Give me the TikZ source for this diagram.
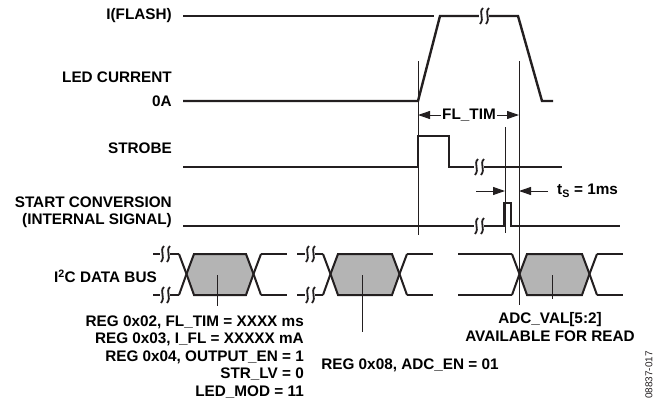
\documentclass[tikz,border=0pt]{standalone}
\usepackage{fontspec}
\setmainfont{Liberation Sans}
\usetikzlibrary{arrows.meta}

% break mark on a line: #1 = x, #2 = y
\newcommand{\zigbreak}[2]{%
  \fill[white] (#1-5,#2-6) rectangle (#1+5,#2+6);
  \draw[brk] (#1-1,#2-8) .. controls (#1-6,#2-3) and (#1+1,#2+2) .. (#1-4,#2+8);
  \draw[brk] (#1+5,#2-8) .. controls (#1,#2-3) and (#1+7,#2+2) .. (#1+2,#2+8);
}
% data eye: #1 = left end of the crossing, #2 = right end of the top
\newcommand{\dataeye}[2]{%
  \draw[eye,fill=eyegray] (#1+7.5,274) -- (#1+15,254) -- (#2,254) -- (#2+7.5,274)
        -- (#2,295) -- (#1+15,295) -- cycle;
  \draw[eye] (#1,254) -- (#1+7.5,274) -- (#1,295);
  \draw[eye] (#2+15,254) -- (#2+7.5,274) -- (#2+15,295);
}

\definecolor{eyegray}{RGB}{180,180,180}
\definecolor{inkgray}{RGB}{35,31,32}

\begin{document}
\begin{tikzpicture}[x=1pt,y=-1pt,
    font=\bfseries\fontsize{15.3}{17.5}\selectfont,
    sig/.style={line width=2.4pt,line join=miter,inkgray},
    thinl/.style={line width=1pt,inkgray},
    brk/.style={line width=1.8pt,inkgray},
    eye/.style={line width=2pt,inkgray,line join=miter},
    lbl/.style={anchor=east,inner sep=0pt},
    tip/.style={-{Triangle[length=12pt,width=8pt]}}]
  \useasboundingbox (0,0) rectangle (657,402);

  % row labels
  \node[lbl] (iflash) at (172,16) {I(FLASH)};
  \node[lbl] (ledcur) at (172,77) {LED CURRENT};
  \node[lbl] (zeroa) at (172,101) {0A};
  \node[lbl] (strobe) at (172,148) {STROBE};
  \node[lbl,align=right] (startconv) at (172,212) {START CONVERSION\\(INTERNAL SIGNAL)};
  \node[lbl] (i2cbus) at (157,276) {I\textsuperscript{2}C DATA BUS};

  % marker lines
  \draw[thinl] (418,61) -- (418,235);
  \draw[thinl] (519,61) -- (519,305);
  \draw[thinl] (505,127) -- (505,233);

  % LED current
  \draw[line width=1.2pt,inkgray] (183,16) -- (434,16);
  \draw[sig] (183,101) -- (418,101) -- (440,16) -- (518,16) -- (542,101) -- (553,101);
  \zigbreak{484}{16}

  % FL_TIM
  \node[inner sep=1pt] (fltim) at (469,115) {FL\_TIM};
  \draw[thinl,tip] (fltim.west) -- (418,115);
  \draw[thinl,tip] (fltim.east) -- (519,115);

  % strobe
  \draw[sig] (183,167) -- (418,167) -- (418,136) -- (449,136) -- (449,167) -- (562,167);
  \zigbreak{479}{167}

  % t_S
  \draw[thinl,tip] (476,191) -- (505,191);
  \draw[thinl,tip] (548,191) -- (519,191);
  \node[anchor=west,inner sep=0pt] (tslbl) at (557,191) {t\textsubscript{S} = 1ms};

  % start conversion
  \draw[sig] (183,226) -- (504,226) -- (504,203) -- (511,203) -- (511,226) -- (620,226);
  \zigbreak{479}{226}

  % I2C data bus
  \draw[eye] (153,254) -- (179,254);
  \draw[eye] (153,295) -- (179,295);
  \zigbreak{165}{254}
  \zigbreak{165}{295}
  \dataeye{179}{246}
  \draw[eye] (261,254) -- (287,254);
  \draw[eye] (261,295) -- (287,295);

  \draw[eye] (297,254) -- (323,254);
  \draw[eye] (297,295) -- (323,295);
  \zigbreak{310}{254}
  \zigbreak{310}{295}
  \dataeye{323}{392}
  \draw[eye] (407,254) -- (433,254);
  \draw[eye] (407,295) -- (433,295);

  \draw[eye] (458,254) -- (512,254);
  \draw[eye] (458,295) -- (512,295);
  \dataeye{512}{582}
  \draw[eye] (597,254) -- (623,254);
  \draw[eye] (597,295) -- (623,295);
  \draw[thinl] (519,254) -- (519,305);

  % register notes
  \draw[thinl] (217,275) -- (217,306);
  \draw[thinl] (362,275) -- (362,332);
  \draw[thinl] (552,275) -- (552,299);
  \node[anchor=north east,inner sep=0pt,align=right] (regset) at (304,315.5)
    {REG 0x02, FL\_TIM = XXXX ms\\REG 0x03, I\_FL = XXXXX mA\\REG 0x04, OUTPUT\_EN = 1\\STR\_LV = 0\\LED\_MOD = 11};
  \node[inner sep=0pt] (adcen) at (410,365) {REG 0x08, ADC\_EN = 01};
  \node[inner sep=0pt,align=center] (adcval) at (550,327)
    {ADC\_VAL[5:2]\\AVAILABLE FOR READ};

  \node[rotate=90,inner sep=0pt,font=\fontsize{10}{12}\selectfont,inkgray] (figid) at (649,375) {08837-017};
\end{tikzpicture}
\end{document}
